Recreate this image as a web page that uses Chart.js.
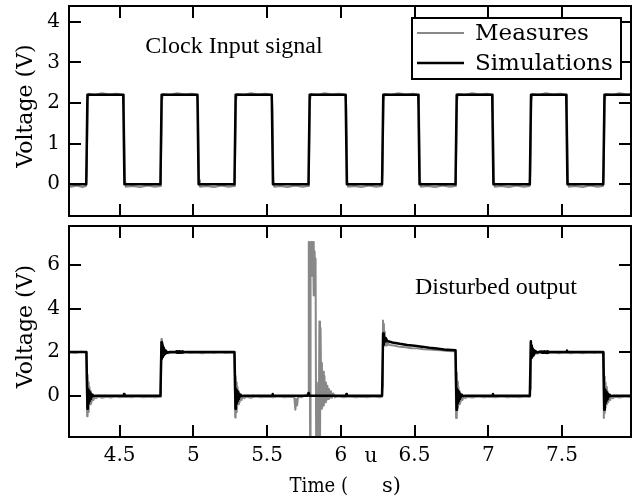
<!DOCTYPE html>
<html><head><meta charset="utf-8">
<script src="https://cdn.jsdelivr.net/npm/chart.js@4.4.1/dist/chart.umd.min.js"></script>
<style>
html,body{margin:0;padding:0;background:#fff;}
#wrap{position:relative;width:632px;height:502px;overflow:hidden;}
.pane{position:absolute;left:0;width:632px;}
</style></head><body>
<div id="wrap">
<div class="pane" style="top:0;height:222px"><canvas id="c1" width="632" height="222"></canvas></div>
<div class="pane" style="top:222px;height:280px"><canvas id="c2" width="632" height="280"></canvas></div>
</div>
<script>
// ---------------- DATA (time in µs, voltage in V) ----------------
const seriesNames = ['Measures', 'Simulations'];
const xTicks = [4.5, 5, 5.5, 6, 6.5, 7, 7.5];
const xTickLabels = ['4.5', '5', '5.5', '6', '6.5', '7', '7.5'];
const topYTicks = [0, 1, 2, 3, 4];
const topYTickLabels = ['0', '1', '2', '3', '4'];
const botYTicks = [0, 2, 4, 6];
const botYTickLabels = ['0', '2', '4', '6'];

// Clock input – simulation
const clockSim = [
 [4.10,0],[4.274,0],[4.282,2.2],[4.525,2.2],[4.533,0],[4.777,0],[4.785,2.2],[5.028,2.2],[5.036,0],
 [5.279,0],[5.287,2.2],[5.532,2.2],[5.540,0],[5.781,0],[5.789,2.2],[6.033,2.2],[6.041,0],
 [6.280,0],[6.288,2.2],[6.526,2.2],[6.534,0],[6.778,0],[6.786,2.2],[7.027,2.2],[7.035,0],
 [7.282,0],[7.290,2.2],[7.529,2.2],[7.537,0],[7.780,0],[7.788,2.2],[8.0,2.2]
];
// Clock input – measures
const clockMeas = [
 [4.10,-0.04],[4.17,-0.06],[4.21,-0.03],[4.25,-0.07],[4.272,-0.04],[4.277,0.3],[4.284,2.05],[4.29,2.23],[4.33,2.2],[4.38,2.24],[4.43,2.21],[4.48,2.23],[4.524,2.2],[4.529,1.9],[4.536,0.1],[4.542,-0.06],[4.59,-0.04],[4.64,-0.07],[4.69,-0.03],[4.74,-0.06],[4.775,-0.04],
 [4.780,0.3],[4.787,2.05],[4.793,2.22],[4.84,2.2],[4.89,2.24],[4.94,2.21],[4.99,2.23],[5.027,2.2],[5.032,1.9],[5.039,0.1],[5.045,-0.06],[5.09,-0.04],[5.14,-0.07],[5.19,-0.03],[5.24,-0.06],[5.277,-0.04],
 [5.282,0.3],[5.289,2.05],[5.295,2.22],[5.34,2.2],[5.39,2.24],[5.44,2.21],[5.49,2.23],[5.531,2.2],[5.536,1.9],[5.543,0.1],[5.549,-0.06],[5.59,-0.04],[5.64,-0.07],[5.69,-0.03],[5.74,-0.06],[5.779,-0.04],
 [5.784,0.3],[5.791,2.05],[5.797,2.22],[5.84,2.2],[5.89,2.24],[5.94,2.21],[5.99,2.23],[6.032,2.2],[6.037,1.9],[6.044,0.1],[6.05,-0.06],[6.09,-0.04],[6.14,-0.07],[6.19,-0.03],[6.24,-0.06],[6.278,-0.04],
 [6.283,0.3],[6.290,2.05],[6.296,2.22],[6.34,2.2],[6.39,2.24],[6.44,2.21],[6.49,2.23],[6.525,2.2],[6.530,1.9],[6.537,0.1],[6.543,-0.06],[6.59,-0.04],[6.64,-0.07],[6.69,-0.03],[6.74,-0.06],[6.776,-0.04],
 [6.781,0.3],[6.788,2.05],[6.794,2.22],[6.84,2.2],[6.89,2.24],[6.94,2.21],[6.99,2.23],[7.026,2.2],[7.031,1.9],[7.038,0.1],[7.044,-0.06],[7.09,-0.04],[7.14,-0.07],[7.19,-0.03],[7.24,-0.06],[7.28,-0.04],
 [7.285,0.3],[7.292,2.05],[7.298,2.22],[7.34,2.2],[7.39,2.24],[7.44,2.21],[7.49,2.23],[7.528,2.2],[7.533,1.9],[7.540,0.1],[7.546,-0.06],[7.59,-0.04],[7.64,-0.07],[7.69,-0.03],[7.74,-0.06],[7.778,-0.04],
 [7.783,0.3],[7.790,2.05],[7.796,2.22],[7.84,2.2],[7.89,2.24],[7.94,2.21],[8.0,2.22]
];
// Disturbed output – simulation
const outputSim = [
 [4.10,2.0],[4.275,2.0],[4.282,-0.6],[4.285,0.3],[4.288,-0.35],[4.291,0.25],[4.294,-0.25],[4.297,0.18],[4.301,-0.15],[4.305,0.1],[4.31,-0.07],[4.316,0.04],[4.325,-0.02],[4.34,0],
 [4.527,0],[4.530,0.07],[4.533,0],[4.777,0],
 [4.784,2.45],[4.787,1.7],[4.790,2.3],[4.793,1.78],[4.796,2.2],[4.80,1.85],[4.804,2.12],[4.809,1.92],[4.815,2.06],[4.823,1.97],[4.835,2.0],
 [4.88,2.0],[4.885,2.04],[4.89,1.97],[4.895,2.04],[4.90,1.97],[4.905,2.04],[4.91,1.97],[4.915,2.03],[4.92,1.98],[4.925,2.03],[4.93,1.98],[4.94,2.0],[5.279,2.0],
 [5.286,-0.6],[5.289,0.3],[5.292,-0.35],[5.295,0.25],[5.298,-0.25],[5.301,0.18],[5.305,-0.15],[5.309,0.1],[5.314,-0.07],[5.32,0.04],[5.33,-0.02],[5.345,0],
 [5.534,0],[5.537,0.07],[5.54,0],[5.776,0],[5.782,0.12],[5.788,0],[6.035,0],[6.038,0.07],[6.041,0],[6.280,0],
 [6.287,2.85],[6.290,2.35],[6.293,2.75],[6.296,2.45],[6.30,2.65],[6.305,2.5],[6.31,2.56],[6.32,2.5],[6.35,2.44],[6.40,2.38],[6.45,2.33],[6.50,2.29],[6.55,2.25],[6.60,2.2],[6.65,2.16],[6.70,2.12],[6.778,2.08],
 [6.785,-0.65],[6.788,0.3],[6.791,-0.35],[6.794,0.25],[6.797,-0.25],[6.80,0.18],[6.804,-0.15],[6.808,0.1],[6.813,-0.07],[6.82,0.04],[6.83,-0.02],[6.845,0],
 [7.029,0],[7.032,0.07],[7.035,0],[7.282,0],
 [7.289,2.5],[7.292,1.75],[7.295,2.3],[7.298,1.82],[7.301,2.18],[7.305,1.88],[7.309,2.1],[7.314,1.94],[7.32,2.05],[7.33,1.98],[7.34,2.0],
 [7.36,2.03],[7.365,1.97],[7.37,2.03],[7.375,1.97],[7.38,2.03],[7.385,1.97],[7.39,2.03],[7.395,1.97],[7.40,2.03],[7.405,1.97],[7.41,2.02],[7.42,2.0],
 [7.531,2.0],[7.534,2.07],[7.537,2.0],[7.780,2.0],
 [7.787,-0.65],[7.790,0.3],[7.793,-0.35],[7.796,0.25],[7.799,-0.25],[7.802,0.18],[7.806,-0.15],[7.81,0.1],[7.815,-0.07],[7.822,0.04],[7.832,-0.02],[7.85,0],[8.0,0]
];
// Disturbed output – measures
const outputMeas = [
 [4.10,1.98],[4.15,2.0],[4.20,1.97],[4.24,2.01],[4.276,1.98],
 [4.280,-0.95],[4.283,0.95],[4.286,-0.75],[4.289,0.6],[4.292,-0.55],[4.296,0.4],[4.30,-0.4],[4.305,0.2],[4.31,-0.3],[4.316,0.05],[4.323,-0.2],[4.33,-0.02],[4.34,-0.12],
 [4.36,-0.04],[4.38,-0.1],[4.41,-0.05],[4.44,-0.09],[4.47,-0.04],[4.50,-0.08],[4.54,-0.05],[4.58,-0.08],[4.62,-0.04],[4.66,-0.07],[4.70,-0.05],[4.74,-0.08],[4.776,-0.05],
 [4.780,0.3],[4.784,2.6],[4.787,1.75],[4.790,2.4],[4.793,1.8],[4.797,2.2],[4.801,1.85],[4.806,2.05],[4.812,1.9],[4.82,2.0],[4.83,1.95],
 [4.86,1.98],[4.90,1.96],[4.94,1.99],[4.98,1.96],[5.02,1.98],[5.06,1.95],[5.10,1.98],[5.14,1.96],[5.18,1.99],[5.22,1.96],[5.26,1.98],[5.279,1.97],
 [5.284,-1.0],[5.287,0.9],[5.290,-0.75],[5.293,0.6],[5.296,-0.55],[5.30,0.4],[5.304,-0.4],[5.309,0.2],[5.314,-0.3],[5.32,0.05],[5.327,-0.2],[5.335,-0.03],[5.345,-0.12],
 [5.36,-0.05],[5.39,-0.1],[5.42,-0.04],[5.46,-0.08],[5.50,-0.05],[5.54,-0.08],[5.58,-0.04],[5.62,-0.07],[5.66,-0.05],[5.685,-0.08],
 [5.692,-0.65],[5.698,-0.15],[5.704,-0.45],[5.71,-0.05],[5.73,-0.08],[5.755,0.0],[5.775,0.06],[5.780,0.15],
 [5.783,7.05],[5.789,7.05],[5.792,-2.5],[5.795,7.0],[5.800,7.05],[5.803,5.5],[5.806,7.0],[5.812,7.05],[5.815,4.6],[5.818,6.7],[5.823,6.6],[5.826,5.0],[5.829,6.3],
 [5.833,-2.5],[5.838,0.6],[5.842,-2.5],[5.850,-2.5],[5.855,3.4],[5.859,-2.5],[5.863,3.1],[5.868,-0.6],[5.872,1.5],[5.876,-0.5],[5.880,1.1],[5.885,-0.45],[5.889,0.9],[5.894,-0.3],[5.899,0.6],[5.904,-0.2],[5.909,0.45],[5.914,-0.15],[5.92,0.3],[5.926,-0.1],[5.933,0.2],[5.94,-0.1],[5.948,0.1],[5.96,-0.08],
 [5.98,-0.03],[6.02,-0.08],[6.06,-0.04],[6.10,-0.08],[6.14,-0.05],[6.18,-0.08],[6.22,-0.04],[6.26,-0.07],[6.279,-0.05],
 [6.283,0.4],[6.286,3.45],[6.289,2.3],[6.292,3.3],[6.295,2.4],[6.298,2.95],[6.302,2.3],[6.307,2.6],[6.313,2.3],[6.32,2.4],[6.33,2.32],
 [6.36,2.3],[6.40,2.24],[6.44,2.22],[6.48,2.18],[6.52,2.17],[6.56,2.13],[6.60,2.12],[6.64,2.09],[6.68,2.08],[6.72,2.05],[6.778,2.04],
 [6.782,-1.03],[6.785,1.05],[6.788,-0.8],[6.791,0.65],[6.794,-0.55],[6.798,0.4],[6.802,-0.4],[6.807,0.2],[6.812,-0.3],[6.818,0.05],[6.825,-0.2],[6.833,-0.03],[6.845,-0.12],
 [6.86,-0.05],[6.89,-0.09],[6.93,-0.04],[6.97,-0.08],[7.01,-0.05],[7.05,-0.08],[7.09,-0.04],[7.13,-0.07],[7.17,-0.05],[7.21,-0.08],[7.25,-0.04],[7.281,-0.06],
 [7.285,0.3],[7.288,2.45],[7.291,1.7],[7.294,2.3],[7.297,1.78],[7.30,2.15],[7.304,1.82],[7.309,2.05],[7.315,1.9],[7.322,2.0],[7.33,1.93],
 [7.36,1.97],[7.40,1.95],[7.44,1.98],[7.48,1.95],[7.52,1.98],[7.56,1.95],[7.60,1.98],[7.64,1.95],[7.68,1.98],[7.72,1.96],[7.76,1.98],[7.780,1.97],
 [7.784,-1.03],[7.787,0.88],[7.790,-0.8],[7.793,0.6],[7.796,-0.55],[7.80,0.4],[7.804,-0.4],[7.809,0.2],[7.814,-0.3],[7.82,0.05],[7.827,-0.2],[7.835,-0.03],[7.845,-0.12],
 [7.86,-0.05],[7.89,-0.09],[7.93,-0.04],[7.97,-0.08],[8.0,-0.05]
];
const xRange = [4.157, 7.968];
const topYRange = [-0.78, 4.386];
const botYRange = [-1.90, 7.79];

// ---------------- STYLE ----------------
const SERIF = "'DejaVu Serif', serif";
const TIMES = "'Liberation Serif', 'Times New Roman', serif";
const GRAY = '#888888';
const BLACK = '#000000';
const TICK_LEN = 12;
const toXY = arr => arr.map(p => ({x: p[0], y: p[1]}));

function makeDatasets(meas, sim) {
  return [
    {label: seriesNames[0], data: toXY(meas), borderColor: GRAY, backgroundColor: GRAY, borderWidth: 2,
     showLine: true, pointRadius: 0, pointHoverRadius: 0, order: 2, borderJoinStyle: 'round', tension: 0},
    {label: seriesNames[1], data: toXY(sim), borderColor: BLACK, backgroundColor: BLACK, borderWidth: 2.5,
     showLine: true, pointRadius: 0, pointHoverRadius: 0, order: 1, borderJoinStyle: 'round', tension: 0}
  ];
}

function yScale(range, ticks, labels) {
  return {
    type: 'linear', position: 'left', min: range[0], max: range[1],
    afterBuildTicks(s) { s.ticks = ticks.map(v => ({value: v})); },
    afterFit(s) { s.width = 69; s.paddingTop = 0; s.paddingBottom = 0; },
    grid: {display: false, drawTicks: false}, border: {display: false},
    ticks: {padding: 9, color: '#000', font: {family: SERIF, size: 20}, callback: (v, i) => labels[i]}
  };
}
function xScale(showLabels) {
  return {
    type: 'linear', position: 'bottom', min: xRange[0], max: xRange[1],
    afterBuildTicks(s) { s.ticks = xTicks.map(v => ({value: v})); },
    afterFit(s) { s.height = showLabels ? 65 : 0; s.paddingLeft = 0; s.paddingRight = 0; },
    grid: {display: false, drawTicks: false}, border: {display: false},
    ticks: {display: showLabels, padding: 7, maxRotation: 0, autoSkip: false, color: '#000',
            font: {family: SERIF, size: 20}, callback: (v, i) => xTickLabels[i]}
  };
}

function framePlugin(cfg) {
  return {
    id: 'frame' + cfg.name,
    afterDatasetsDraw(chart) {
      const {ctx, chartArea: a, scales} = chart;
      ctx.save();
      ctx.strokeStyle = '#000'; ctx.lineWidth = 2; ctx.lineCap = 'butt';
      ctx.beginPath();
      scales.x.ticks.forEach(t => {
        const px = Math.round(scales.x.getPixelForValue(t.value));
        ctx.moveTo(px, a.top); ctx.lineTo(px, a.top + TICK_LEN);
        ctx.moveTo(px, a.bottom); ctx.lineTo(px, a.bottom - TICK_LEN);
      });
      scales.y.ticks.forEach(t => {
        const py = Math.round(scales.y.getPixelForValue(t.value));
        ctx.moveTo(a.left, py); ctx.lineTo(a.left + TICK_LEN, py);
        ctx.moveTo(a.right, py); ctx.lineTo(a.right - TICK_LEN, py);
      });
      ctx.stroke();
      ctx.strokeRect(a.left, a.top, a.right - a.left, a.bottom - a.top);

      // y-axis title
      ctx.fillStyle = '#000';
      ctx.save();
      ctx.translate(26, (a.top + a.bottom) / 2 - 5);
      ctx.rotate(-Math.PI / 2);
      ctx.font = `22px ${SERIF}`;
      ctx.textAlign = 'center'; ctx.textBaseline = 'middle';
      ctx.fillText('Voltage (V)', 0, 0);
      ctx.restore();

      // annotation
      ctx.font = `24px ${TIMES}`;
      ctx.textAlign = 'center'; ctx.textBaseline = 'middle';
      ctx.fillText(cfg.note, cfg.noteX, cfg.noteY);

      if (cfg.legend) {
        const L = {x: 412, y: 18, w: 209, h: 61};
        ctx.fillStyle = '#fff';
        ctx.fillRect(L.x, L.y, L.w, L.h);
        ctx.strokeStyle = '#000'; ctx.lineWidth = 2;
        ctx.strokeRect(L.x, L.y, L.w, L.h);
        const rows = [33, 63];
        chart.data.datasets.forEach((ds, i) => {
          ctx.strokeStyle = ds.borderColor; ctx.lineWidth = ds.borderWidth;
          ctx.beginPath(); ctx.moveTo(417, rows[i]); ctx.lineTo(464, rows[i]); ctx.stroke();
          ctx.fillStyle = '#000';
          ctx.font = `23px ${SERIF}`;
          ctx.textAlign = 'left'; ctx.textBaseline = 'middle';
          ctx.fillText(ds.label, 475, rows[i] + 1);
        });
      }
      if (cfg.xtitle) {
        ctx.fillStyle = '#000';
        ctx.font = `21px ${SERIF}`;
        ctx.textBaseline = 'middle';
        const w = ctx.measureText('Time (').width;
        ctx.save();
        ctx.translate(348, 265);
        ctx.scale(0.86, 1);
        ctx.textAlign = 'right';
        ctx.fillText('Time (', 0, 0);
        ctx.restore();
        ctx.textAlign = 'left';
        ctx.fillText('s)', 382, 265);
        ctx.font = `20px ${SERIF}`;
        ctx.textAlign = 'center'; ctx.textBaseline = 'alphabetic';
        ctx.fillText('u', 371, 239.5);
      }
      ctx.restore();
    }
  };
}

Chart.defaults.animation = false;

new Chart(document.getElementById('c1'), {
  type: 'scatter',
  data: {datasets: makeDatasets(clockMeas, clockSim)},
  options: {
    responsive: false, devicePixelRatio: 1, animation: false,
    layout: {padding: {top: 6, right: 1, bottom: 6, left: 0}},
    plugins: {legend: {display: false}, tooltip: {enabled: false}},
    scales: {x: xScale(false), y: yScale(topYRange, topYTicks, topYTickLabels)}
  },
  plugins: [framePlugin({name: 'top', note: 'Clock Input signal', noteX: 234, noteY: 47, legend: true})]
});

new Chart(document.getElementById('c2'), {
  type: 'scatter',
  data: {datasets: makeDatasets(outputMeas, outputSim)},
  options: {
    responsive: false, devicePixelRatio: 1, animation: false,
    layout: {padding: {top: 4, right: 1, bottom: 0, left: 0}},
    plugins: {legend: {display: false}, tooltip: {enabled: false}},
    scales: {x: xScale(true), y: yScale(botYRange, botYTicks, botYTickLabels)}
  },
  plugins: [framePlugin({name: 'bot', note: 'Disturbed output', noteX: 496, noteY: 66, legend: false, xtitle: true})]
});
</script>
</body></html>
